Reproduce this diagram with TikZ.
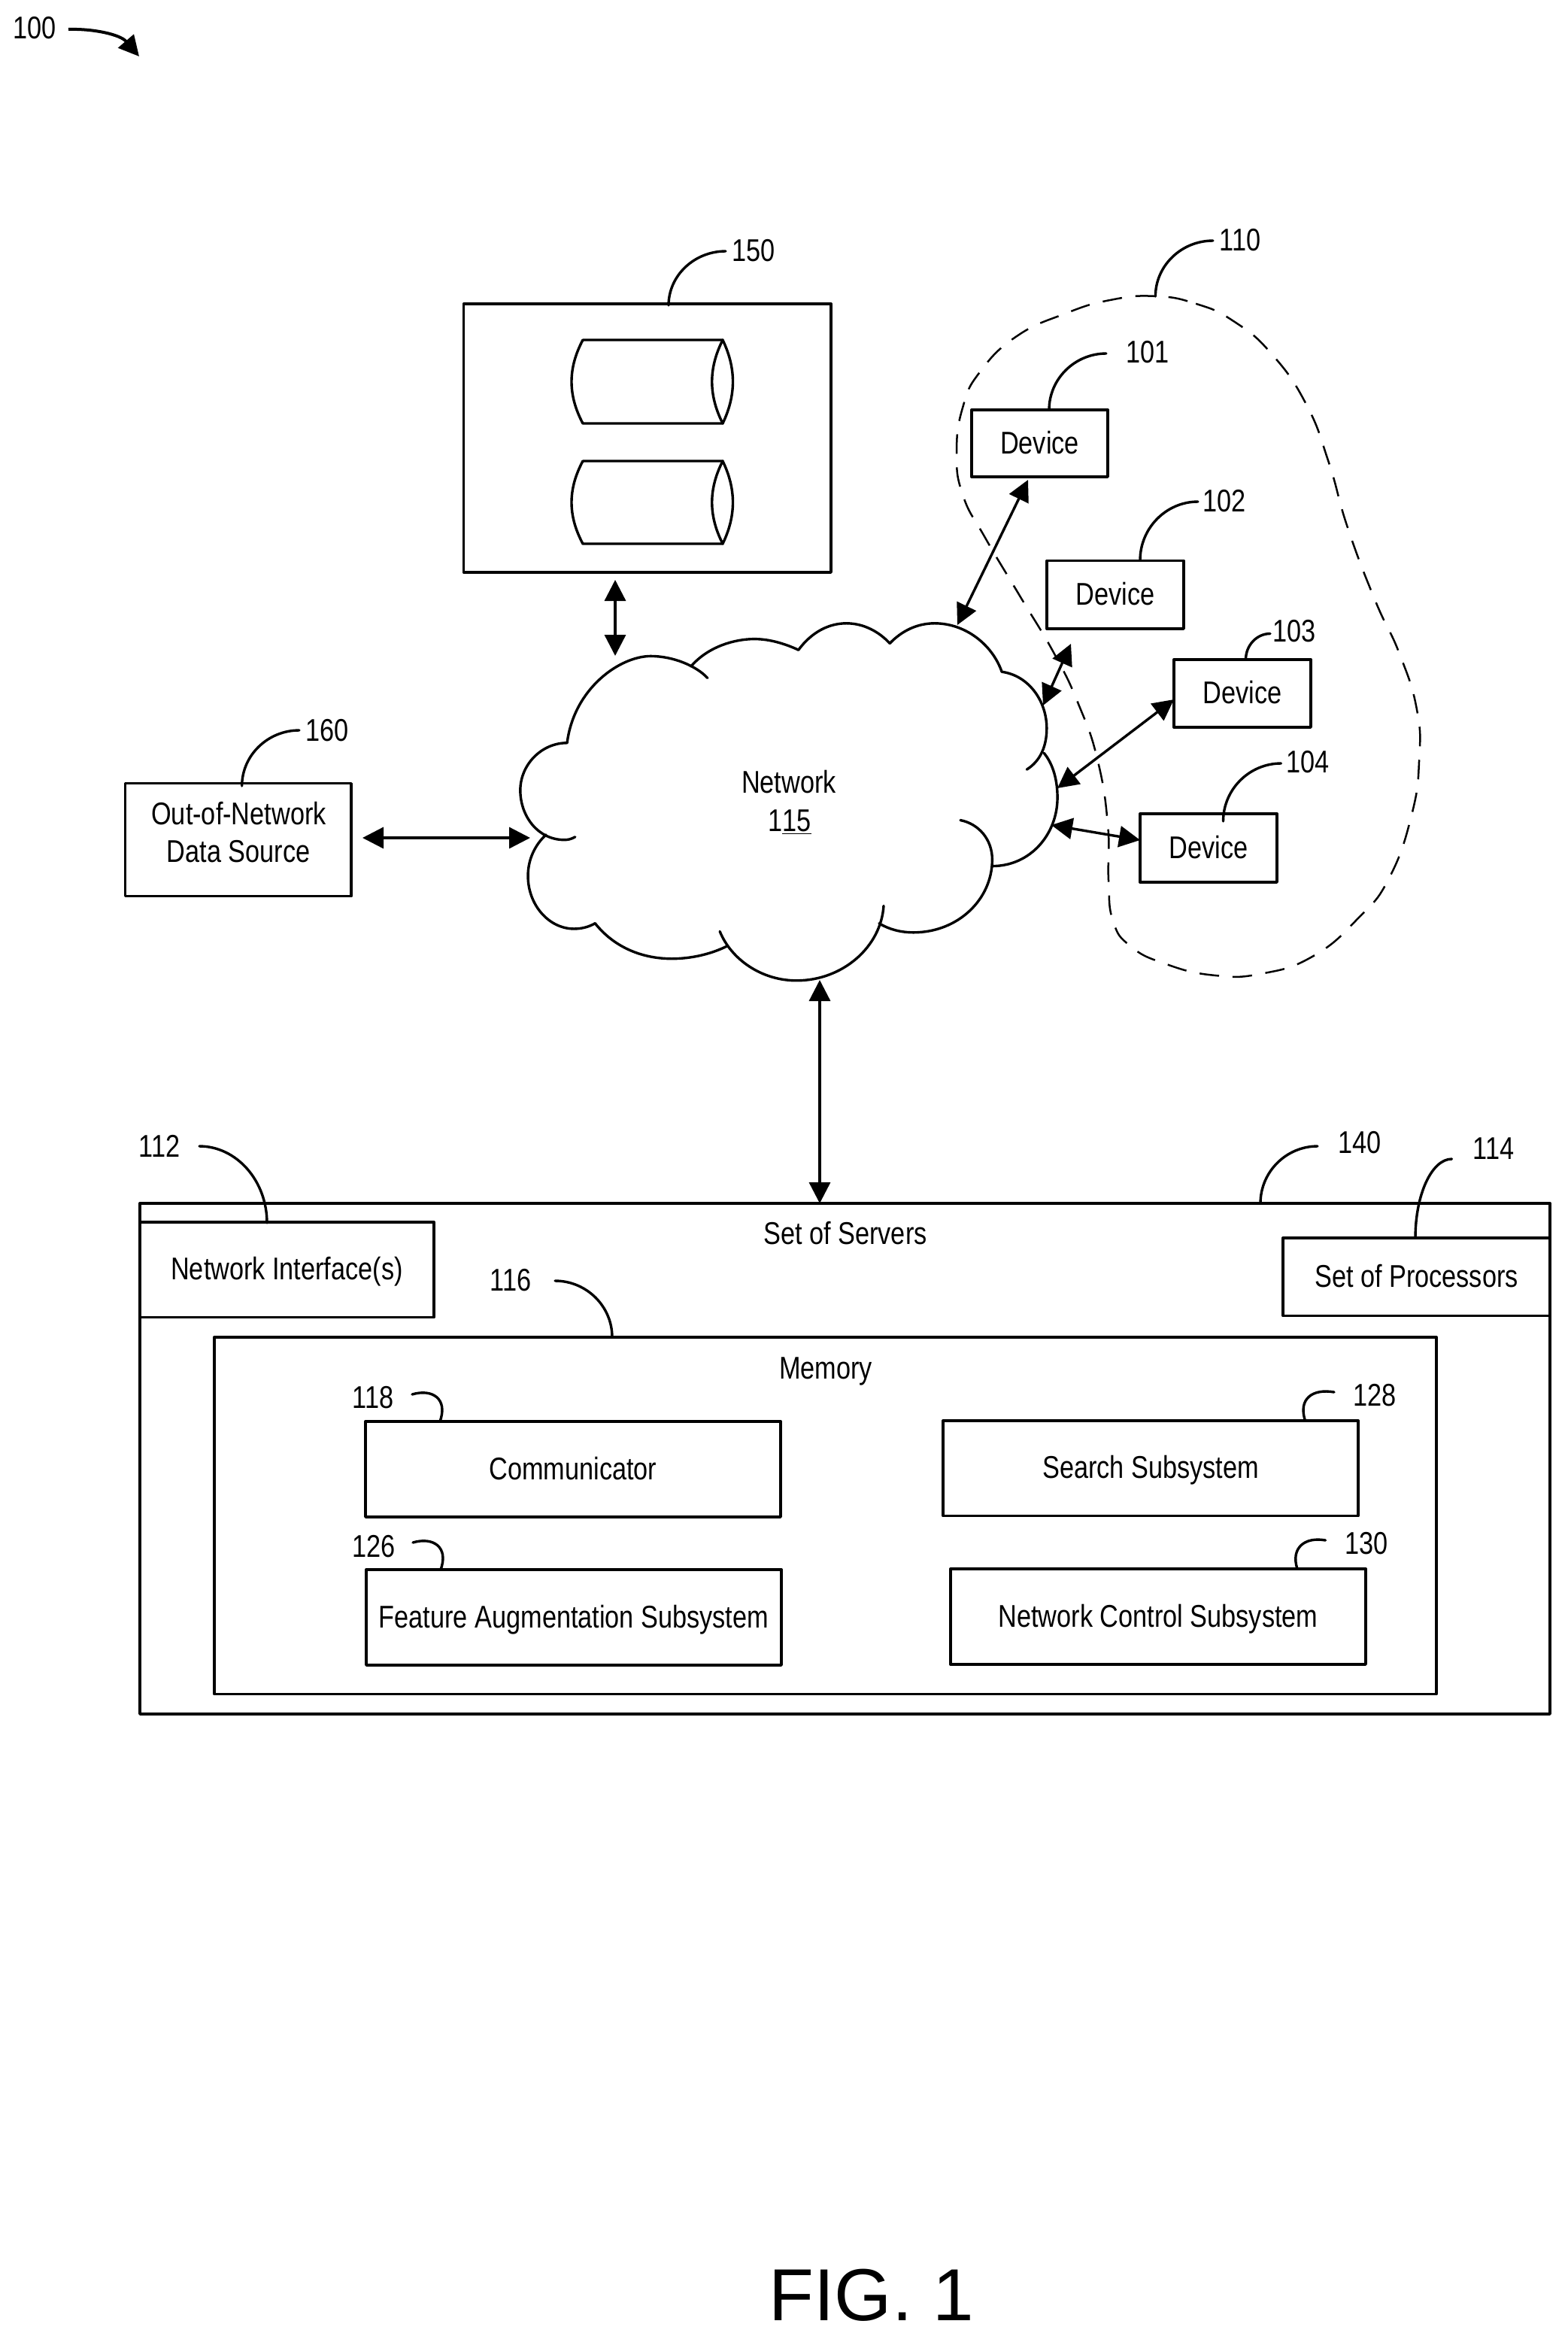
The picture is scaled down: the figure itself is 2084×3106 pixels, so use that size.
\documentclass[tikz,border=0pt]{standalone}
\usepackage{fontspec}
\setmainfont[FakeStretch=0.82]{Liberation Sans}
\newfontfamily\figfont{Liberation Sans}
\usetikzlibrary{arrows.meta}
\tikzset{
  ln/.style={line width=1.7pt,black,line cap=round,line join=round},
  box/.style={ln,draw,rectangle,inner sep=0pt,outer sep=0pt,text height=13.5pt,text depth=0pt,font=\fontsize{20.9}{25}\selectfont},
  txt/.style={inner sep=0pt,outer sep=0pt,anchor=base,font=\fontsize{20.9}{25}\selectfont},
  lead/.style={ln},
  dbl/.style={line width=1.7pt,black,{Triangle[length=14pt,width=14pt]}-{Triangle[length=14pt,width=14pt]}},
  blob/.style={line width=1.25pt,black,dash pattern=on 13pt off 9pt},
}
\newcommand{\pxbox}[6]{%
  \pgfmathsetmacro\bxcx{(#2+#4)/2}\pgfmathsetmacro\bxcy{(#3+#5)/2}%
  \pgfmathsetmacro\bxw{(#4-#2)/2}\pgfmathsetmacro\bxh{(#5-#3)/2}%
  \node[box,minimum width=\bxw pt,minimum height=\bxh pt] (#1) at (\bxcx,\bxcy) {#6};}
\newcommand{\leader}[5]{%
  \pgfmathsetmacro\lca{#3+0.55*(#5-#3)}\pgfmathsetmacro\lcb{#2+0.45*(#4-#2)}%
  \coordinate (#1A) at (#2,#3);\coordinate (#1B) at (#4,#5);%
  \draw[lead] (#1A) .. controls (#2,\lca) and (\lcb,#5) .. (#1B);}
\begin{document}
\begin{tikzpicture}[x=0.5pt,y=-0.5pt]
\useasboundingbox (0,0) rectangle (2084,3106);
\fill[white] (0,0) rectangle (2084,3106);

% reference 100
\node[txt] (n100) at (46,51) {100};
\coordinate (a100s) at (91,39);
\coordinate (a100e) at (185,75);
\draw[line width=2pt,black,-{Triangle[length=13.5pt,width=13.5pt]}] (a100s) .. controls (125,38) and (160,46) .. (a100e);

% data store 150
\pxbox{db}{616.5}{404}{1105}{761}{}
\foreach \ya/\yb in {452/563,613/723}{
  \pgfmathsetmacro\yc{\ya+0.34*(\yb-\ya)}
  \pgfmathsetmacro\yd{\ya+0.66*(\yb-\ya)}
  \draw[ln] (775,\ya) -- (961,\ya) .. controls (979,\yc) and (979,\yd) .. (961,\yb) -- (775,\yb)
            .. controls (755,\yd) and (755,\yc) .. (775,\ya);
  \draw[ln] (961,\ya) .. controls (942,\yc) and (942,\yd) .. (961,\yb);
}
\node[txt] (n150) at (1002,347) {150};
\leader{l150}{889}{406}{965}{334}

% source 160
\pxbox{oon}{166.7}{1041.7}{467}{1191.7}{}
\node[txt] (oonA) at (317.5,1096) {Out-of-Network};
\node[txt] (oonB) at (317,1146) {Data Source};
\node[txt] (n160) at (435,985) {160};
\leader{l160}{321.7}{1045}{398}{971}

% cloud
\begin{scope}[shift={(600,600)},xscale=0.5102,yscale=0.4847]
\draw[ln] (302,800) .. controls (320,650) and (440,562) .. (520,562) .. controls (580,562) and (640,590) .. (668,622);
\draw[ln] (625,590) .. controls (670,535) and (740,515) .. (790,515) .. controls (830,515) and (870,528) .. (905,545);
\draw[ln] (905,545) .. controls (940,495) and (985,472) .. (1030,472) .. controls (1075,472) and (1115,495) .. (1143,527);
\draw[ln] (1143,527) .. controls (1175,492) and (1215,472) .. (1260,472) .. controls (1340,472) and (1410,530) .. (1435,605);
\draw[ln] (1435,605) .. controls (1505,615) and (1552,685) .. (1552,760) .. controls (1552,810) and (1535,850) .. (1500,873);
\draw[ln] (1545,828) .. controls (1570,860) and (1580,905) .. (1580,950) .. controls (1580,1050) and (1510,1138) .. (1410,1138);
\draw[ln] (1327,1012) .. controls (1375,1022) and (1410,1065) .. (1410,1120) .. controls (1410,1230) and (1320,1320) .. (1205,1320) .. controls (1172,1320) and (1142,1312) .. (1115,1295);
\draw[ln] (1127,1247) .. controls (1120,1360) and (1020,1452) .. (900,1452) .. controls (810,1452) and (730,1395) .. (700,1317);
\draw[ln] (718,1358) .. controls (675,1380) and (625,1392) .. (575,1392) .. controls (490,1392) and (420,1355) .. (375,1295);
\draw[ln] (375,1295) .. controls (358,1305) and (340,1310) .. (320,1310) .. controls (255,1310) and (200,1245) .. (200,1165) .. controls (200,1120) and (218,1080) .. (247,1052);
\draw[ln] (323,1058) .. controls (312,1064) and (305,1066) .. (295,1066) .. controls (225,1066) and (180,1000) .. (180,930) .. controls (180,860) and (235,800) .. (302,800);
\end{scope}
\node[txt] (netA) at (1049,1054) {Network};
\node[txt] (netB) at (1050,1105) {1\underline{15}};

% device group 110
\begin{scope}[shift={(1200,300)},xscale=0.459,yscale=0.6698]
\draw[blob] plot[smooth cycle,tension=0.8] coordinates {(730,140)(850,155)(960,190)(1070,255)(1170,355)(1235,470)(1290,600)(1370,745)(1440,850)(1490,960)(1497,1060)(1475,1170)(1410,1295)(1320,1375)(1190,1450)(1040,1485)(900,1488)(760,1465)(660,1430)(610,1380)(597,1300)(595,1190)(565,1060)(510,950)(440,850)(340,735)(240,620)(175,535)(157,450)(175,360)(225,290)(330,220)(470,175)(600,148)};
\end{scope}
\node[txt] (n110) at (1649,333) {110};
\leader{l110}{1536.4}{394}{1613}{320}

% devices
\pxbox{d101}{1292}{545}{1473}{634}{Device}
\pxbox{d102}{1392}{745.4}{1574}{836}{Device}
\pxbox{d103}{1561}{877}{1743}{967}{Device}
\pxbox{d104}{1516}{1082}{1698}{1173}{Device}
\node[txt] (n101) at (1526,482) {101};
\node[txt] (n102) at (1628,680) {102};
\node[txt] (n103) at (1721,853) {103};
\node[txt] (n104) at (1739,1027) {104};
\leader{l101}{1395}{545}{1471}{470}
\leader{l102}{1516}{745}{1593}{667}
\leader{l103}{1656.5}{877}{1689}{842.5}
\leader{l104}{1626.5}{1092}{1703.5}{1015}

% server group
\pxbox{srv}{186}{1600}{2061}{2279}{}
\pxbox{nif}{186}{1625}{577}{1751.5}{Network Interface(s)}
\pxbox{cpu}{1706}{1646}{2061}{1749.5}{Set of Processors}
\pxbox{mem}{285}{1778}{1910}{2252.5}{}
\pxbox{com}{486}{1890}{1038}{2017}{Communicator}
\pxbox{fea}{487}{2087}{1039}{2214}{Feature Augmentation Subsystem}
\pxbox{sea}{1254}{1889}{1806}{2015.5}{Search Subsystem}
\pxbox{nct}{1264}{2086}{1816}{2213}{Network Control Subsystem}
\node[txt] (srvT) at (1124,1654) {Set of Servers};
\node[txt] (memT) at (1098,1833) {Memory};
\node[txt] (n112) at (212,1538) {112};
\node[txt] (n116) at (679,1716) {116};
\node[txt] (n118) at (496,1872) {118};
\node[txt] (n126) at (497,2070) {126};
\node[txt] (n140) at (1808,1533) {140};
\node[txt] (n114) at (1986,1541) {114};
\node[txt] (n128) at (1828,1869) {128};
\node[txt] (n130) at (1817,2066) {130};
\leader{l112}{355}{1626}{265}{1524}
\leader{l116}{814}{1778}{738}{1703}
\leader{l140}{1676}{1600}{1752}{1524}
\leader{l114}{1882}{1646}{1930.5}{1541}
\coordinate (l118A) at (585,1890);\coordinate (l118B) at (548,1854);
\draw[lead] (l118A) .. controls (596,1860) and (575,1846) .. (l118B);
\coordinate (l126A) at (586,2087);\coordinate (l126B) at (549,2051);
\draw[lead] (l126A) .. controls (597,2057) and (576,2043) .. (l126B);
\coordinate (l128A) at (1735.5,1889);\coordinate (l128B) at (1774,1851);
\draw[lead] (l128A) .. controls (1726,1860) and (1745,1846) .. (l128B);
\coordinate (l130A) at (1725,2086);\coordinate (l130B) at (1762.5,2048);
\draw[lead] (l130A) .. controls (1716,2058) and (1735,2043) .. (l130B);

% connectors
\coordinate (cDb) at (818,771);\coordinate (cCloudTop) at (818,872);
\draw[dbl] (cDb) -- (cCloudTop);
\coordinate (cOon) at (482,1114);\coordinate (cCloudLeft) at (705,1114);
\draw[dbl] (cOon) -- (cCloudLeft);
\coordinate (cCloudBot) at (1090,1303);\coordinate (cSrv) at (1090,1600);
\draw[dbl] (cCloudBot) -- (cSrv);
\coordinate (c101) at (1367,638);\coordinate (cC101) at (1273,831);
\draw[dbl] (c101) -- (cC101);
\coordinate (c102) at (1424,856);\coordinate (cC102) at (1387,938);
\draw[dbl] (c102) -- (cC102);
\coordinate (c103) at (1561,930);\coordinate (cC103) at (1406,1048);
\draw[dbl] (c103) -- (cC103);
\coordinate (c104) at (1516,1117);\coordinate (cC104) at (1398,1097);
\draw[dbl] (c104) -- (cC104);

\node[inner sep=0pt,anchor=base,font=\figfont\fontsize{49}{60}\selectfont] (fig) at (1159,3085) {FIG. 1};
\end{tikzpicture}
\end{document}
